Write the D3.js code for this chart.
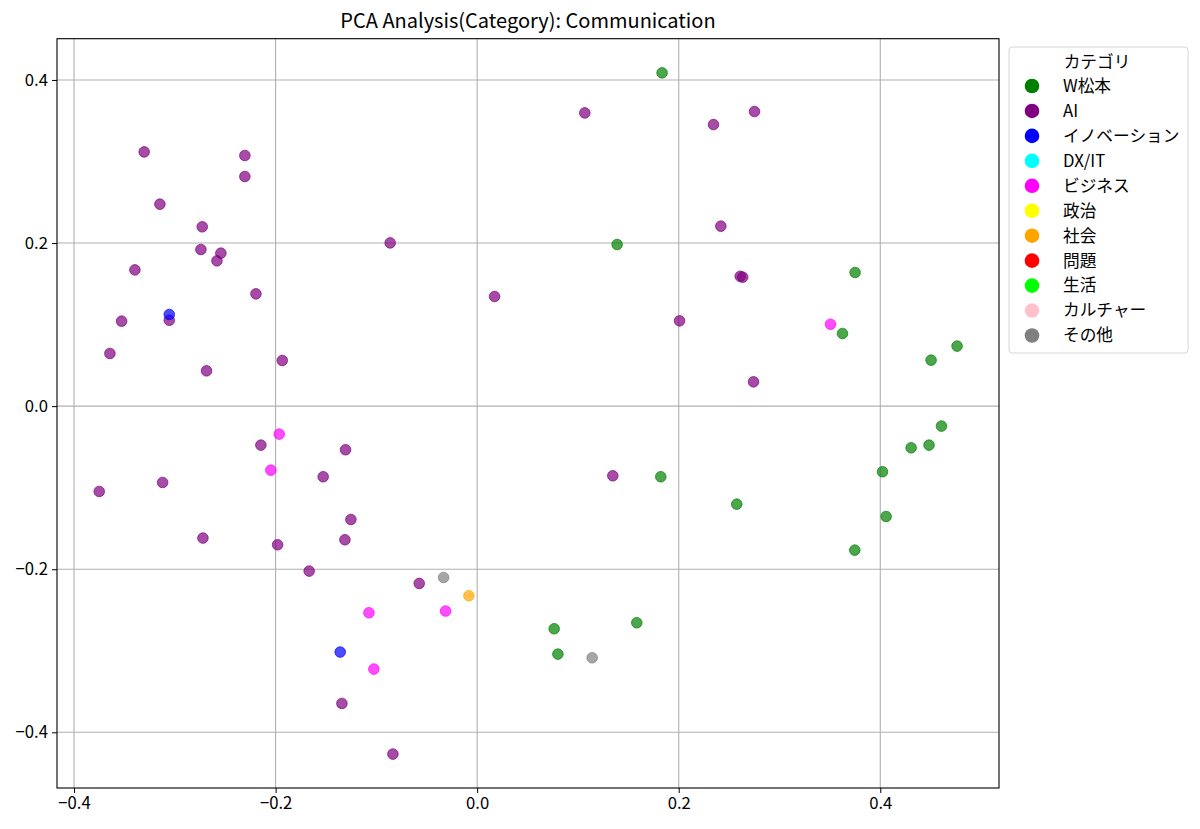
<!DOCTYPE html>
<html>
<head>
<meta charset="utf-8">
<script src="https://cdn.jsdelivr.net/npm/d3@7"></script>
<style>
  body { margin: 0; background: #fff; }
  text { font-family: "Noto Sans CJK JP", "Noto Sans", sans-serif; }
</style>
</head>
<body>
<div id="chart"></div>
<script>
// legend categories and their colours
const categories = ['W松本', 'AI', 'イノベーション', 'DX/IT', 'ビジネス', '政治', '社会', '問題', '生活', 'カルチャー', 'その他']
const categoryColors = ['green', 'purple', 'blue', 'cyan', 'magenta', 'yellow', 'orange', 'red', 'lime', 'pink', 'gray']

// points per category (PC1, PC2)
const wMatsumotoX = [0.1835, 0.1389, 0.3750, 0.3625, 0.4762, 0.4504, 0.4607, 0.4306, 0.4484, 0.4022, 0.1822, 0.2576, 0.4058, 0.3747, 0.0764, 0.1584, 0.0801]
const wMatsumotoY = [0.4087, 0.1982, 0.1639, 0.0891, 0.0736, 0.0564, -0.0245, -0.0511, -0.0478, -0.0805, -0.0866, -0.1202, -0.1353, -0.1766, -0.2730, -0.2656, -0.3041]

const aiX = [-0.3304, -0.2305, -0.2305, -0.3148, -0.2728, -0.2741, -0.2543, -0.2582, -0.3396, -0.2195, -0.0863, 0.0173, -0.3055, -0.3528, -0.3644, -0.2685, -0.1934,
  -0.2146, -0.1306, -0.1528, -0.3121, -0.3750, -0.1253, -0.2721, -0.1312, -0.1980, -0.1667, -0.0575, -0.1342, -0.0836,
  0.1068, 0.2345, 0.2752, 0.2418, 0.2610, 0.2635, 0.2008, 0.2742, 0.1346]
const aiY = [0.3118, 0.3074, 0.2816, 0.2477, 0.2199, 0.1921, 0.1876, 0.1782, 0.1671, 0.1377, 0.2002, 0.1345, 0.1054, 0.1042, 0.0646, 0.0433, 0.0560,
  -0.0478, -0.0535, -0.0866, -0.0936, -0.1046, -0.1390, -0.1618, -0.1639, -0.1700, -0.2023, -0.2174, -0.3646, -0.4267,
  0.3596, 0.3453, 0.3613, 0.2207, 0.1592, 0.1582, 0.1046, 0.0298, -0.0854]

const innovationX = [-0.3055, -0.1359]
const innovationY = [0.1124, -0.3016]

const businessX = [-0.1964, -0.2047, -0.1074, -0.0313, -0.1025, 0.3506]
const businessY = [-0.0343, -0.0785, -0.2534, -0.2513, -0.3225, 0.1005]

const societyX = [-0.0082]
const societyY = [-0.2325]

const otherX = [-0.0333, 0.1141]
const otherY = [-0.2101, -0.3086]

const seriesX = { 'W松本': wMatsumotoX, 'AI': aiX, 'イノベーション': innovationX, 'ビジネス': businessX, '社会': societyX, 'その他': otherX }
const seriesY = { 'W松本': wMatsumotoY, 'AI': aiY, 'イノベーション': innovationY, 'ビジネス': businessY, '社会': societyY, 'その他': otherY }

const xTicks = [-0.4, -0.2, 0.0, 0.2, 0.4]
const yTicks = [-0.4, -0.2, 0.0, 0.2, 0.4]

const width = 1200
const height = 829
const margin = { top: 38.7, right: 201, bottom: 41, left: 57 }
const chartWidth = width - margin.left - margin.right
const chartHeight = height - margin.top - margin.bottom
const fontSize = 16.7

const svg = d3.select('#chart').append('svg')
  .attr('width', width)
  .attr('height', height)

const drawingArea = svg.append('g')
  .attr('transform', `translate(${margin.left},${margin.top})`)

const x = d3.scaleLinear()
  .domain([-0.4169, 0.5178])
  .range([0, chartWidth])

const y = d3.scaleLinear()
  .domain([-0.4683, 0.4506])
  .range([chartHeight, 0])

// grid
drawingArea.append('g')
  .selectAll('line')
  .data(xTicks)
  .join('line')
  .attr('x1', d => x(d)).attr('x2', d => x(d))
  .attr('y1', 0).attr('y2', chartHeight)
  .attr('stroke', '#b0b0b0').attr('stroke-width', 1.1)

drawingArea.append('g')
  .selectAll('line')
  .data(yTicks)
  .join('line')
  .attr('y1', d => y(d)).attr('y2', d => y(d))
  .attr('x1', 0).attr('x2', chartWidth)
  .attr('stroke', '#b0b0b0').attr('stroke-width', 1.1)

// points
const points = []
categories.forEach((c, i) => {
  const xs = seriesX[c] || []
  const ys = seriesY[c] || []
  xs.forEach((v, j) => points.push({ x: v, y: ys[j], color: categoryColors[i] }))
})

drawingArea.append('g')
  .selectAll('circle')
  .data(points)
  .join('circle')
  .attr('cx', d => x(d.x))
  .attr('cy', d => y(d.y))
  .attr('r', 5.3)
  .attr('fill', d => d.color)
  .attr('fill-opacity', 0.7)
  .attr('stroke', d => d.color)
  .attr('stroke-opacity', 0.7)
  .attr('stroke-width', 1)

// axes
const fmt = d3.format('.1f')
const xAxis = d3.axisBottom(x).tickValues(xTicks).tickFormat(d => fmt(d).replace('-', '−')).tickSize(5).tickPadding(4)
const yAxis = d3.axisLeft(y).tickValues(yTicks).tickFormat(d => fmt(d).replace('-', '−')).tickSize(5).tickPadding(4)

const gx = drawingArea.append('g')
  .attr('transform', `translate(0,${chartHeight})`)
  .call(xAxis)
const gy = drawingArea.append('g')
  .call(yAxis)

;[gx, gy].forEach(g => {
  g.select('.domain').remove()
  g.selectAll('text').attr('font-size', fontSize).attr('fill', '#000')
    .style('font-family', '"Noto Sans CJK JP", "Noto Sans", sans-serif')
  g.selectAll('line').attr('stroke', '#000').attr('stroke-width', 1)
})

drawingArea.append('rect')
  .attr('width', chartWidth)
  .attr('height', chartHeight)
  .attr('fill', 'none')
  .attr('stroke', '#000')
  .attr('stroke-width', 1.1)

// title
svg.append('text')
  .attr('x', margin.left + chartWidth / 2)
  .attr('y', 28)
  .attr('text-anchor', 'middle')
  .attr('font-size', 20)
  .text('PCA Analysis(Category): Communication')

// legend
const legend = svg.append('g')
  .attr('transform', 'translate(1009,47)')

legend.append('rect')
  .attr('width', 179)
  .attr('height', 306)
  .attr('rx', 3)
  .attr('fill', '#fff')
  .attr('stroke', '#d6d6d6')
  .attr('stroke-width', 1)

legend.append('text')
  .attr('x', 88)
  .attr('y', 15)
  .attr('dy', '0.35em')
  .attr('text-anchor', 'middle')
  .attr('font-size', fontSize)
  .text('カテゴリ')

const rows = legend.selectAll('g.row')
  .data(categories)
  .join('g')
  .attr('class', 'row')
  .attr('transform', (d, i) => `translate(0,${39 + i * 24.95})`)

rows.append('circle')
  .attr('cx', 23)
  .attr('cy', 0)
  .attr('r', 7.3)
  .attr('fill', (d, i) => categoryColors[i])

rows.append('text')
  .attr('x', 54)
  .attr('y', 0)
  .attr('dy', '0.35em')
  .attr('font-size', fontSize)
  .text(d => d)
</script>
</body>
</html>
